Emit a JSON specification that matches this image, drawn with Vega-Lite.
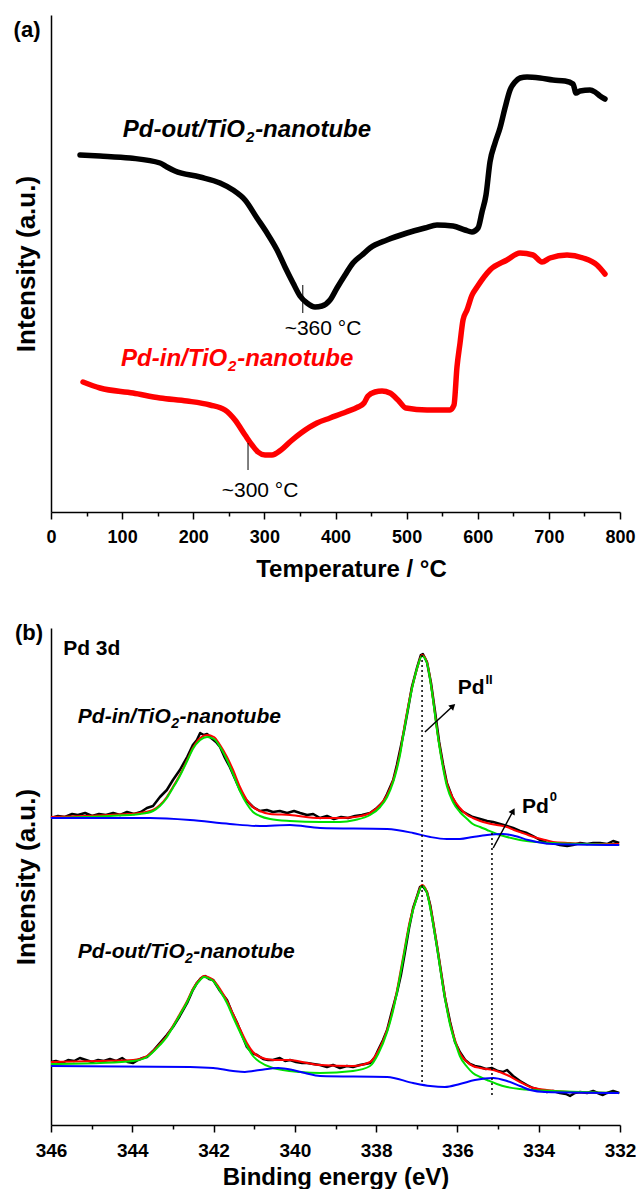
{
  "$schema": "https://vega.github.io/schema/vega-lite/v6.json",
  "background": "white",
  "padding": {"left": 13, "top": 15, "right": 2, "bottom": 0},
  "bounds": "flush",
  "spacing": 116,
  "config": {
    "font": "Liberation Sans",
    "view": {"stroke": null},
    "axis": {"domainColor": "#000000", "domainWidth": 1.5, "tickColor": "#000000", "tickWidth": 1.5, "labelColor": "#000000", "titleColor": "#000000", "grid": false, "labelFontWeight": "bold", "titleFontWeight": "bold", "labelFont": "Liberation Sans", "titleFont": "Liberation Sans"}
  },
  "datasets": {
    "tprOut": [
      {"t":40.8,"i":357},{"t":68.9,"i":356},{"t":111.1,"i":354},{"t":153.3,"i":349},{"t":163.1,"i":345},{"t":174.3,"i":341},{"t":209.5,"i":335},{"t":237.6,"i":329},{"t":255.9,"i":322},{"t":272.8,"i":312},{"t":289.6,"i":294},{"t":303.7,"i":279},{"t":317.8,"i":262},{"t":329.0,"i":245},{"t":340.3,"i":229},{"t":350.1,"i":216},{"t":359.9,"i":209},{"t":371.2,"i":205},{"t":381.0,"i":206},{"t":392.3,"i":212},{"t":402.1,"i":224},{"t":413.4,"i":237},{"t":424.6,"i":249},{"t":437.3,"i":257},{"t":448.5,"i":264},{"t":472.4,"i":272},{"t":500.5,"i":279},{"t":525.8,"i":284},{"t":542.7,"i":287},{"t":565.2,"i":286},{"t":582.1,"i":282},{"t":591.9,"i":280},{"t":600.4,"i":284},{"t":606.0,"i":300},{"t":611.6,"i":317},{"t":617.2,"i":350},{"t":624.3,"i":369},{"t":631.3,"i":384},{"t":638.3,"i":404},{"t":645.4,"i":422},{"t":652.4,"i":430},{"t":659.4,"i":434},{"t":669.3,"i":435},{"t":687.5,"i":434},{"t":705.8,"i":432},{"t":722.7,"i":431},{"t":733.9,"i":428},{"t":738.2,"i":419},{"t":743.8,"i":421},{"t":757.8,"i":422},{"t":764.9,"i":420},{"t":771.9,"i":416},{"t":778.9,"i":413}
    ],
    "tprIn": [
      {"t":45.0,"i":130},{"t":68.9,"i":124},{"t":115.3,"i":119},{"t":153.3,"i":114},{"t":191.2,"i":111},{"t":223.6,"i":107},{"t":244.6,"i":102},{"t":258.7,"i":92},{"t":272.8,"i":77},{"t":282.6,"i":67},{"t":291.0,"i":60},{"t":300.9,"i":57},{"t":310.7,"i":57},{"t":323.4,"i":62},{"t":337.4,"i":71},{"t":351.5,"i":79},{"t":374.0,"i":89},{"t":392.3,"i":94},{"t":414.8,"i":100},{"t":431.6,"i":105},{"t":440.1,"i":109},{"t":445.7,"i":116},{"t":455.5,"i":120},{"t":465.4,"i":121},{"t":476.6,"i":119},{"t":487.9,"i":112},{"t":499.1,"i":104},{"t":528.7,"i":102},{"t":546.9,"i":102},{"t":561.0,"i":102},{"t":566.6,"i":107},{"t":570.8,"i":145},{"t":575.1,"i":169},{"t":579.3,"i":192},{"t":584.9,"i":202},{"t":592.0,"i":217},{"t":599.0,"i":225},{"t":617.2,"i":242},{"t":641.1,"i":252},{"t":659.4,"i":259},{"t":677.7,"i":257},{"t":690.3,"i":250},{"t":701.6,"i":254},{"t":725.5,"i":257},{"t":748.0,"i":254},{"t":767.7,"i":247},{"t":778.9,"i":238}
    ],
    "inRaw": [
      {"e":346.00,"i":307},{"e":345.83,"i":309},{"e":345.66,"i":308},{"e":345.48,"i":311},{"e":345.34,"i":310},{"e":345.16,"i":312},{"e":344.99,"i":309},{"e":344.82,"i":311},{"e":344.65,"i":310},{"e":344.47,"i":312},{"e":344.30,"i":310},{"e":344.13,"i":313},{"e":343.96,"i":311},{"e":343.79,"i":313},{"e":343.64,"i":317},{"e":343.49,"i":319},{"e":343.32,"i":328},{"e":343.15,"i":335},{"e":343.00,"i":345},{"e":342.83,"i":355},{"e":342.65,"i":368},{"e":342.51,"i":380},{"e":342.41,"i":385},{"e":342.33,"i":392},{"e":342.24,"i":390},{"e":342.16,"i":391},{"e":342.06,"i":387},{"e":341.94,"i":383},{"e":341.84,"i":378},{"e":341.72,"i":367},{"e":341.60,"i":358},{"e":341.47,"i":346},{"e":341.35,"i":335},{"e":341.20,"i":325},{"e":341.03,"i":318},{"e":340.86,"i":314},{"e":340.69,"i":315},{"e":340.54,"i":313},{"e":340.37,"i":314},{"e":340.19,"i":312},{"e":340.02,"i":314},{"e":339.87,"i":312},{"e":339.70,"i":310},{"e":339.55,"i":311},{"e":339.38,"i":307},{"e":339.21,"i":309},{"e":339.04,"i":306},{"e":338.86,"i":308},{"e":338.69,"i":307},{"e":338.52,"i":309},{"e":338.35,"i":310},{"e":338.15,"i":312},{"e":337.98,"i":317},{"e":337.83,"i":323},{"e":337.73,"i":331},{"e":337.58,"i":345},{"e":337.49,"i":360},{"e":337.39,"i":379},{"e":337.31,"i":395},{"e":337.22,"i":415},{"e":337.12,"i":438},{"e":336.99,"i":458},{"e":336.90,"i":470},{"e":336.85,"i":471},{"e":336.75,"i":463},{"e":336.65,"i":442},{"e":336.55,"i":413},{"e":336.45,"i":383},{"e":336.35,"i":360},{"e":336.26,"i":342},{"e":336.13,"i":328},{"e":336.01,"i":319},{"e":335.89,"i":314},{"e":335.76,"i":311},{"e":335.62,"i":308},{"e":335.44,"i":306},{"e":335.27,"i":304},{"e":335.12,"i":303},{"e":334.95,"i":301},{"e":334.78,"i":299},{"e":334.63,"i":297},{"e":334.46,"i":294},{"e":334.29,"i":292},{"e":334.14,"i":289},{"e":333.97,"i":285},{"e":333.80,"i":282},{"e":333.65,"i":282},{"e":333.48,"i":280},{"e":333.30,"i":279},{"e":333.16,"i":280},{"e":332.98,"i":282},{"e":332.81,"i":281},{"e":332.66,"i":282},{"e":332.49,"i":282},{"e":332.32,"i":281},{"e":332.17,"i":284},{"e":332.02,"i":282}
    ],
    "inEnv": [
      {"e":346.00,"i":308},{"e":344.55,"i":310},{"e":343.81,"i":312},{"e":343.49,"i":315},{"e":343.32,"i":320},{"e":343.15,"i":328},{"e":343.00,"i":338},{"e":342.83,"i":350},{"e":342.65,"i":365},{"e":342.51,"i":377},{"e":342.33,"i":387},{"e":342.16,"i":390},{"e":341.99,"i":388},{"e":341.84,"i":380},{"e":341.67,"i":368},{"e":341.52,"i":355},{"e":341.35,"i":338},{"e":341.18,"i":325},{"e":341.03,"i":318},{"e":340.86,"i":314},{"e":340.61,"i":311},{"e":340.12,"i":310},{"e":339.38,"i":307},{"e":338.89,"i":307},{"e":338.52,"i":308},{"e":338.15,"i":312},{"e":337.90,"i":320},{"e":337.73,"i":330},{"e":337.58,"i":345},{"e":337.49,"i":358},{"e":337.39,"i":377},{"e":337.34,"i":390},{"e":337.24,"i":413},{"e":337.12,"i":437},{"e":336.99,"i":457},{"e":336.87,"i":470},{"e":336.75,"i":463},{"e":336.63,"i":435},{"e":336.50,"i":395},{"e":336.38,"i":365},{"e":336.26,"i":342},{"e":336.11,"i":327},{"e":335.94,"i":317},{"e":335.76,"i":310},{"e":335.62,"i":307},{"e":335.44,"i":304},{"e":335.27,"i":302},{"e":335.03,"i":300},{"e":334.78,"i":298},{"e":334.61,"i":295},{"e":334.46,"i":293},{"e":334.26,"i":290},{"e":334.04,"i":287},{"e":333.84,"i":285},{"e":333.65,"i":283},{"e":333.23,"i":282},{"e":332.74,"i":281},{"e":332.02,"i":281}
    ],
    "inD2": [
      {"e":346.00,"i":307},{"e":344.55,"i":309},{"e":343.81,"i":311},{"e":343.49,"i":314},{"e":343.32,"i":319},{"e":343.15,"i":327},{"e":343.00,"i":337},{"e":342.83,"i":349},{"e":342.65,"i":364},{"e":342.51,"i":376},{"e":342.33,"i":385},{"e":342.16,"i":388},{"e":341.99,"i":386},{"e":341.84,"i":378},{"e":341.67,"i":365},{"e":341.52,"i":351},{"e":341.35,"i":334},{"e":341.18,"i":321},{"e":341.03,"i":313},{"e":340.86,"i":309},{"e":340.61,"i":306},{"e":340.12,"i":304},{"e":339.38,"i":303},{"e":338.89,"i":303},{"e":338.52,"i":305},{"e":338.15,"i":310},{"e":337.90,"i":318},{"e":337.73,"i":328},{"e":337.58,"i":343},{"e":337.49,"i":356},{"e":337.39,"i":375},{"e":337.34,"i":388},{"e":337.24,"i":411},{"e":337.12,"i":436},{"e":336.99,"i":457},{"e":336.87,"i":469},{"e":336.75,"i":462},{"e":336.63,"i":434},{"e":336.50,"i":394},{"e":336.38,"i":363},{"e":336.26,"i":339},{"e":336.11,"i":323},{"e":335.94,"i":313},{"e":335.76,"i":306},{"e":335.62,"i":301},{"e":335.44,"i":298},{"e":335.27,"i":295},{"e":335.03,"i":291},{"e":334.78,"i":288},{"e":334.46,"i":285},{"e":334.04,"i":283},{"e":333.65,"i":282},{"e":332.98,"i":281},{"e":332.02,"i":280}
    ],
    "inD0": [
      {"e":346.00,"i":307},{"e":343.56,"i":307},{"e":342.58,"i":305},{"e":341.60,"i":301},{"e":340.86,"i":299},{"e":340.12,"i":300},{"e":339.38,"i":297},{"e":337.73,"i":296},{"e":337.09,"i":292},{"e":336.67,"i":288},{"e":336.26,"i":286},{"e":335.94,"i":286},{"e":335.62,"i":288},{"e":335.27,"i":290},{"e":334.88,"i":291},{"e":334.58,"i":289},{"e":334.26,"i":285},{"e":334.04,"i":283},{"e":333.65,"i":281},{"e":332.02,"i":280}
    ],
    "outRaw": [
      {"e":346.00,"i":63},{"e":345.88,"i":64},{"e":345.73,"i":62},{"e":345.58,"i":65},{"e":345.43,"i":64},{"e":345.29,"i":67},{"e":345.14,"i":65},{"e":344.99,"i":63},{"e":344.84,"i":65},{"e":344.70,"i":64},{"e":344.55,"i":66},{"e":344.40,"i":64},{"e":344.25,"i":67},{"e":344.11,"i":63},{"e":343.98,"i":62},{"e":343.86,"i":65},{"e":343.74,"i":67},{"e":343.64,"i":68},{"e":343.49,"i":74},{"e":343.32,"i":82},{"e":343.15,"i":90},{"e":343.00,"i":98},{"e":342.83,"i":109},{"e":342.65,"i":122},{"e":342.51,"i":135},{"e":342.41,"i":142},{"e":342.31,"i":147},{"e":342.21,"i":149},{"e":342.11,"i":146},{"e":342.01,"i":145},{"e":341.84,"i":134},{"e":341.67,"i":125},{"e":341.55,"i":113},{"e":341.42,"i":102},{"e":341.30,"i":90},{"e":341.18,"i":78},{"e":341.05,"i":72},{"e":340.93,"i":70},{"e":340.78,"i":66},{"e":340.66,"i":65},{"e":340.54,"i":65},{"e":340.37,"i":67},{"e":340.24,"i":64},{"e":340.12,"i":65},{"e":339.97,"i":63},{"e":339.82,"i":62},{"e":339.70,"i":62},{"e":339.55,"i":61},{"e":339.38,"i":60},{"e":339.21,"i":58},{"e":339.06,"i":60},{"e":338.89,"i":57},{"e":338.72,"i":59},{"e":338.57,"i":58},{"e":338.40,"i":60},{"e":338.27,"i":61},{"e":338.15,"i":62},{"e":338.03,"i":68},{"e":337.95,"i":75},{"e":337.83,"i":85},{"e":337.73,"i":95},{"e":337.61,"i":114},{"e":337.49,"i":132},{"e":337.39,"i":150},{"e":337.29,"i":173},{"e":337.19,"i":197},{"e":337.09,"i":217},{"e":336.99,"i":229},{"e":336.92,"i":238},{"e":336.85,"i":239},{"e":336.75,"i":233},{"e":336.67,"i":220},{"e":336.60,"i":203},{"e":336.50,"i":178},{"e":336.40,"i":152},{"e":336.31,"i":128},{"e":336.18,"i":103},{"e":336.06,"i":83},{"e":335.94,"i":73},{"e":335.81,"i":65},{"e":335.69,"i":61},{"e":335.57,"i":59},{"e":335.44,"i":58},{"e":335.30,"i":56},{"e":335.15,"i":57},{"e":335.00,"i":54},{"e":334.88,"i":53},{"e":334.78,"i":55},{"e":334.63,"i":49},{"e":334.46,"i":44},{"e":334.29,"i":40},{"e":334.14,"i":37},{"e":333.97,"i":35},{"e":333.80,"i":33},{"e":333.65,"i":34},{"e":333.48,"i":32},{"e":333.33,"i":31},{"e":333.23,"i":29},{"e":333.11,"i":32},{"e":332.98,"i":33},{"e":332.81,"i":32},{"e":332.66,"i":34},{"e":332.49,"i":31},{"e":332.42,"i":30},{"e":332.32,"i":32},{"e":332.17,"i":34},{"e":332.02,"i":32}
    ],
    "outEnv": [
      {"e":346.00,"i":63},{"e":344.79,"i":64},{"e":343.98,"i":65},{"e":343.64,"i":69},{"e":343.32,"i":81},{"e":343.15,"i":89},{"e":343.00,"i":99},{"e":342.83,"i":111},{"e":342.65,"i":124},{"e":342.51,"i":136},{"e":342.33,"i":146},{"e":342.24,"i":149},{"e":342.14,"i":148},{"e":342.01,"i":145},{"e":341.84,"i":136},{"e":341.67,"i":124},{"e":341.52,"i":111},{"e":341.35,"i":96},{"e":341.18,"i":82},{"e":341.03,"i":73},{"e":340.86,"i":68},{"e":340.54,"i":65},{"e":340.12,"i":65},{"e":339.70,"i":62},{"e":339.38,"i":60},{"e":338.57,"i":59},{"e":338.15,"i":63},{"e":337.95,"i":74},{"e":337.73,"i":95},{"e":337.58,"i":117},{"e":337.49,"i":134},{"e":337.34,"i":167},{"e":337.17,"i":204},{"e":336.99,"i":229},{"e":336.87,"i":240},{"e":336.75,"i":233},{"e":336.67,"i":219},{"e":336.50,"i":179},{"e":336.35,"i":139},{"e":336.18,"i":102},{"e":336.01,"i":79},{"e":335.94,"i":72},{"e":335.76,"i":63},{"e":335.62,"i":59},{"e":335.44,"i":57},{"e":335.12,"i":55},{"e":334.78,"i":50},{"e":334.46,"i":43},{"e":334.21,"i":38},{"e":333.80,"i":35},{"e":333.23,"i":33},{"e":332.02,"i":32}
    ],
    "outD2": [
      {"e":346.00,"i":61},{"e":344.79,"i":62},{"e":343.98,"i":64},{"e":343.64,"i":68},{"e":343.32,"i":80},{"e":343.15,"i":88},{"e":343.00,"i":98},{"e":342.83,"i":110},{"e":342.65,"i":123},{"e":342.51,"i":135},{"e":342.33,"i":145},{"e":342.24,"i":148},{"e":342.14,"i":147},{"e":342.01,"i":144},{"e":341.84,"i":134},{"e":341.67,"i":122},{"e":341.52,"i":108},{"e":341.35,"i":93},{"e":341.18,"i":79},{"e":341.03,"i":69},{"e":340.86,"i":63},{"e":340.54,"i":57},{"e":339.87,"i":53},{"e":339.38,"i":52},{"e":338.57,"i":54},{"e":338.15,"i":59},{"e":337.95,"i":71},{"e":337.73,"i":93},{"e":337.58,"i":115},{"e":337.49,"i":132},{"e":337.34,"i":165},{"e":337.17,"i":202},{"e":336.99,"i":228},{"e":336.87,"i":239},{"e":336.75,"i":232},{"e":336.67,"i":217},{"e":336.50,"i":177},{"e":336.35,"i":137},{"e":336.18,"i":100},{"e":336.01,"i":77},{"e":335.94,"i":69},{"e":335.76,"i":58},{"e":335.62,"i":52},{"e":335.44,"i":48},{"e":335.27,"i":45},{"e":335.03,"i":41},{"e":334.78,"i":38},{"e":334.46,"i":36},{"e":334.14,"i":35},{"e":333.65,"i":34},{"e":332.02,"i":32}
    ],
    "outD0": [
      {"e":346.00,"i":59},{"e":342.58,"i":58},{"e":342.01,"i":57},{"e":341.52,"i":54},{"e":341.23,"i":53},{"e":340.86,"i":55},{"e":340.41,"i":57},{"e":340.05,"i":55},{"e":339.75,"i":52},{"e":339.38,"i":49},{"e":337.73,"i":48},{"e":337.09,"i":42},{"e":336.67,"i":39},{"e":336.31,"i":38},{"e":335.94,"i":41},{"e":335.57,"i":45},{"e":335.12,"i":47},{"e":334.78,"i":44},{"e":334.46,"i":39},{"e":334.21,"i":35},{"e":333.84,"i":33},{"e":332.02,"i":32}
    ]
  },
  "vconcat": [
    {
      "width": 569,
      "height": 497,
      "encoding": {
        "x": {"field": "t", "type": "quantitative", "scale": {"domain": [0, 800], "nice": false, "zero": false},
          "axis": {"title": "Temperature / °C", "values": [0,50,100,150,200,250,300,350,400,450,500,550,600,650,700,750,800], "labelExpr": "datum.value % 100 === 0 ? datum.label : ''", "tickSize": {"condition": {"test": "datum.value % 100 === 0", "value": 7}, "value": 4}, "labelFontSize": 18, "labelPadding": 9, "labelFlush": false, "labelOverlap": false, "titleFontSize": 24, "titlePadding": 11, "titleX": 300}},
        "y": {"field": "i", "type": "quantitative", "scale": {"domain": [0, 497], "nice": false, "zero": false},
          "axis": {"title": "Intensity (a.u.)", "ticks": false, "labels": false, "titleFontSize": 26, "titlePadding": 12}}
      },
      "layer": [
        {"data": {"name": "tprOut"}, "mark": {"type": "line", "color": "#000000", "strokeWidth": 5.5, "strokeJoin": "round", "strokeCap": "round", "interpolate": "monotone"}},
        {"data": {"name": "tprIn"}, "mark": {"type": "line", "color": "#ff0000", "strokeWidth": 5.5, "strokeJoin": "round", "strokeCap": "round", "interpolate": "monotone"}},
        {"data": {"values": [{"t": 354, "i": 199, "i2": 227}, {"t": 277, "i": 42, "i2": 69}]},
          "mark": {"type": "rule", "color": "#000000", "strokeWidth": 1},
          "encoding": {"y2": {"field": "i2"}}},
        {"data": {"values": [{"t": 382.4, "i": 177, "txt": "~360 °C"}, {"t": 293.9, "i": 15, "txt": "~300 °C"}]},
          "mark": {"type": "text", "fontSize": 21, "align": "center", "baseline": "alphabetic", "color": "#000000"},
          "encoding": {"text": {"field": "txt"}}},
        {"data": {"values": [{"t": 101.0, "i": 375, "txt": "Pd-out/TiO", "s": "out"}, {"t": 287.0, "i": 375, "txt": "-nanotube", "s": "out"}, {"t": 98.5, "i": 146, "txt": "Pd-in/TiO", "s": "in"}, {"t": 262.0, "i": 146, "txt": "-nanotube", "s": "in"}]},
          "mark": {"type": "text", "fontSize": 24, "fontWeight": "bold", "fontStyle": "italic", "align": "left", "baseline": "alphabetic"},
          "encoding": {"text": {"field": "txt"}, "color": {"field": "s", "type": "nominal", "scale": {"domain": ["out", "in"], "range": ["#000000", "#ff0000"]}, "legend": null}}},
        {"data": {"values": [{"t": 274.0, "i": 370, "txt": "2", "s": "out"}, {"t": 249.0, "i": 141, "txt": "2", "s": "in"}]},
          "mark": {"type": "text", "fontSize": 15, "fontWeight": "bold", "fontStyle": "italic", "align": "left", "baseline": "alphabetic"},
          "encoding": {"text": {"field": "txt"}, "color": {"field": "s", "type": "nominal", "scale": {"domain": ["out", "in"], "range": ["#000000", "#ff0000"]}, "legend": null}}},
        {"data": {"values": [{"t": -33.7, "i": 482, "txt": "(a)"}]},
          "mark": {"type": "text", "fontSize": 22, "fontWeight": "bold", "align": "center", "baseline": "middle", "color": "#000000"},
          "encoding": {"text": {"field": "txt"}}}
      ]
    },
    {
      "width": 569,
      "height": 497,
      "encoding": {
        "x": {"field": "e", "type": "quantitative", "scale": {"domain": [332, 346], "reverse": true, "nice": false, "zero": false},
          "axis": {"title": "Binding energy (eV)", "values": [332,333,334,335,336,337,338,339,340,341,342,343,344,345,346], "labelExpr": "datum.value % 2 === 0 ? datum.label : ''", "tickSize": {"condition": {"test": "datum.value % 2 === 0", "value": 7}, "value": 4}, "labelFontSize": 19, "labelPadding": 9, "labelFlush": false, "labelOverlap": false, "titleFontSize": 24, "titlePadding": 5}},
        "y": {"field": "i", "type": "quantitative", "scale": {"domain": [0, 497], "nice": false, "zero": false},
          "axis": {"title": "Intensity (a.u.)", "ticks": false, "labels": false, "titleFontSize": 26, "titlePadding": 12}}
      },
      "layer": [
        {"data": {"name": "inRaw"}, "mark": {"type": "line", "color": "#000000", "strokeWidth": 2.5, "strokeJoin": "round"}},
        {"data": {"name": "outRaw"}, "mark": {"type": "line", "color": "#000000", "strokeWidth": 2.5, "strokeJoin": "round"}},
        {"data": {"name": "inEnv"}, "mark": {"type": "line", "color": "#ff0000", "strokeWidth": 2, "interpolate": "monotone"}},
        {"data": {"name": "outEnv"}, "mark": {"type": "line", "color": "#ff0000", "strokeWidth": 2, "interpolate": "monotone"}},
        {"data": {"name": "inD2"}, "mark": {"type": "line", "color": "#00e000", "strokeWidth": 2, "interpolate": "monotone"}},
        {"data": {"name": "outD2"}, "mark": {"type": "line", "color": "#00e000", "strokeWidth": 2, "interpolate": "monotone"}},
        {"data": {"name": "inD0"}, "mark": {"type": "line", "color": "#0000ff", "strokeWidth": 2, "interpolate": "monotone"}},
        {"data": {"name": "outD0"}, "mark": {"type": "line", "color": "#0000ff", "strokeWidth": 2, "interpolate": "monotone"}},
        {"data": {"values": [{"e": 336.87, "i": 470, "i2": 43}, {"e": 335.15, "i": 292, "i2": 30}]},
          "mark": {"type": "rule", "color": "#000000", "strokeWidth": 1.5, "strokeDash": [2, 3]},
          "encoding": {"y2": {"field": "i2"}}},
        {"data": {"values": [{"e": 336.80, "i": 393, "e2": 336.11, "i2": 419}, {"e": 335.12, "i": 277, "e2": 334.63, "i2": 314}]},
          "mark": {"type": "rule", "color": "#000000", "strokeWidth": 1.5},
          "encoding": {"x2": {"field": "e2"}, "y2": {"field": "i2"}}},
        {"data": {"values": [{"e": 336.11, "i": 419}]},
          "mark": {"type": "point", "shape": "triangle-up", "filled": true, "color": "#000000", "opacity": 1, "size": 50, "angle": 47}},
        {"data": {"values": [{"e": 334.63, "i": 314}]},
          "mark": {"type": "point", "shape": "triangle-up", "filled": true, "color": "#000000", "opacity": 1, "size": 50, "angle": 29}},
        {"data": {"values": [{"e": 345.70, "i": 470, "txt": "Pd 3d"}]},
          "mark": {"type": "text", "fontSize": 21, "fontWeight": "bold", "align": "left", "baseline": "alphabetic", "color": "#000000"},
          "encoding": {"text": {"field": "txt"}}},
        {"data": {"values": [{"e": 346.54, "i": 492, "txt": "(b)"}]},
          "mark": {"type": "text", "fontSize": 22, "fontWeight": "bold", "align": "center", "baseline": "middle", "color": "#000000"},
          "encoding": {"text": {"field": "txt"}}},
        {"data": {"values": [{"e": 345.34, "i": 402, "txt": "Pd-in/TiO"}, {"e": 342.84, "i": 402, "txt": "-nanotube"}, {"e": 345.34, "i": 167, "txt": "Pd-out/TiO"}, {"e": 342.50, "i": 167, "txt": "-nanotube"}]},
          "mark": {"type": "text", "fontSize": 21, "fontWeight": "bold", "fontStyle": "italic", "align": "left", "baseline": "alphabetic", "color": "#000000"},
          "encoding": {"text": {"field": "txt"}}},
        {"data": {"values": [{"e": 343.04, "i": 397, "txt": "2"}, {"e": 342.70, "i": 162, "txt": "2"}]},
          "mark": {"type": "text", "fontSize": 14, "fontWeight": "bold", "fontStyle": "italic", "align": "left", "baseline": "alphabetic", "color": "#000000"},
          "encoding": {"text": {"field": "txt"}}},
        {"data": {"values": [{"e": 335.99, "i": 431, "txt": "Pd"}, {"e": 334.41, "i": 312, "txt": "Pd"}]},
          "mark": {"type": "text", "fontSize": 21, "fontWeight": "bold", "align": "left", "baseline": "alphabetic", "color": "#000000"},
          "encoding": {"text": {"field": "txt"}}},
        {"data": {"values": [{"e": 335.31, "i": 441, "txt": "II"}, {"e": 333.73, "i": 324, "txt": "0"}]},
          "mark": {"type": "text", "fontSize": 13, "fontWeight": "bold", "align": "left", "baseline": "alphabetic", "color": "#000000"},
          "encoding": {"text": {"field": "txt"}}}
      ]
    }
  ]
}
